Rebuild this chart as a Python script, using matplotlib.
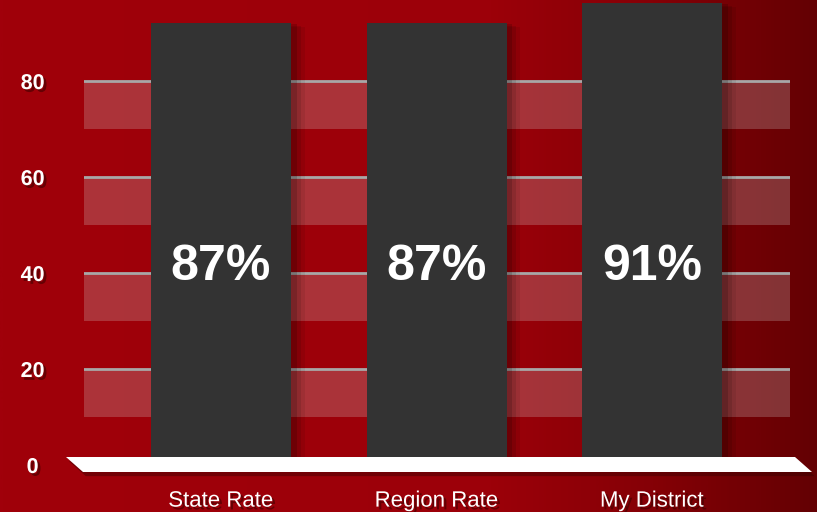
import numpy as np
import matplotlib
matplotlib.use("Agg")
import matplotlib.pyplot as plt
import matplotlib.patheffects as pe
from matplotlib.patches import Polygon
from matplotlib.colors import LinearSegmentedColormap

categories = ["State Rate", "Region Rate", "My District"]
values = [87, 87, 91]
value_labels = ["87%", "87%", "91%"]
yticks = [0, 20, 40, 60, 80]
ytick_labels = ["0", "20", "40", "60", "80"]

W, H = 817, 512
fig = plt.figure(figsize=(W / 100, H / 100), dpi=100)

# background gradient
bg = fig.add_axes([0, 0, 1, 1], zorder=-10)
cmap = LinearSegmentedColormap.from_list(
    "bgred", [(0.0, "#a0000a"), (0.6, "#9c0009"), (0.8, "#850006"), (1.0, "#640003")])
grad = np.linspace(0, 1, 400).reshape(1, -1)
bg.imshow(grad, aspect="auto", cmap=cmap, extent=[0, 1, 0, 1])
bg.set_axis_off()

left_px, right_px = 84, 790
zero_px = 465
ax = fig.add_axes([left_px / W, (H - zero_px) / H, (right_px - left_px) / W, zero_px / H])
ax.patch.set_alpha(0)
x = np.arange(len(categories))
ax.set_xlim(-0.636, 2.64)
ax.set_ylim(0, 96.9)

x0, x1 = ax.get_xlim()
# bands and grid lines (back wall)
for t in yticks[1:]:
    ax.axhspan(t - 10, t, color=(0.84, 0.84, 0.84), alpha=0.24, lw=0, zorder=1)
    ax.axhline(t, color="#a8a8a8", lw=2, zorder=1.5)

# floor (white skewed plate)
px_per_x = (right_px - left_px) / (x1 - x0)
px_per_y = zero_px / 96.9
dx = lambda p: p / px_per_x
dy = lambda p: p / px_per_y
floor = Polygon([[x0 - dx(18), dy(8)], [x1 + dx(5), dy(8)],
                 [x1 + dx(22), -dy(7)], [x0 - dx(1), -dy(7)]],
                closed=True, facecolor="white", edgecolor="none", zorder=4,
                clip_on=False)
floor.set_path_effects([pe.SimplePatchShadow(offset=(2, -3), shadow_rgbFace="#300000", alpha=0.4),
                        pe.Normal()])
ax.add_patch(floor)

# front bars appear slightly larger than the back-wall scale (3D perspective)
persp = 1.04
bars = ax.bar(x, [v * persp for v in values], width=0.65, bottom=dy(8),
              color="#333333", zorder=3, clip_on=False)
for b in bars:
    b.set_path_effects([
        pe.SimplePatchShadow(offset=(10, -3), shadow_rgbFace="black", alpha=0.07),
        pe.SimplePatchShadow(offset=(7, -2), shadow_rgbFace="black", alpha=0.1),
        pe.SimplePatchShadow(offset=(4, -1), shadow_rgbFace="black", alpha=0.15),
        pe.Normal()])

for xi, lab in zip(x, value_labels):
    ax.text(xi, 41.2, lab, ha="center", va="center", color="white",
            fontsize=36, fontweight="bold", family="Liberation Sans", zorder=5)

shadow = [pe.SimplePatchShadow(offset=(2, -2), shadow_rgbFace="#400000", alpha=0.6), pe.Normal()]
ax.set_yticks(yticks)
ax.set_yticklabels(ytick_labels)
ax.set_xticks(x)
ax.set_xticklabels(categories)
ax.tick_params(axis="y", length=0, pad=37)
ax.tick_params(axis="x", length=0, pad=26)
for lab in ax.get_yticklabels():
    lab.set_ha("center")
    lab.set_va("center_baseline")
    lab.set_color("white")
    lab.set_fontsize(15.5)
    lab.set_fontweight("bold")
    lab.set_family("Liberation Sans")
    lab.set_path_effects(shadow)
for lab in ax.get_xticklabels():
    lab.set_va("center")
    lab.set_color("white")
    lab.set_fontsize(16)
    lab.set_family("Liberation Sans")
    lab.set_path_effects(shadow)
for s in ax.spines.values():
    s.set_visible(False)

fig.savefig("out.png", dpi=100)
